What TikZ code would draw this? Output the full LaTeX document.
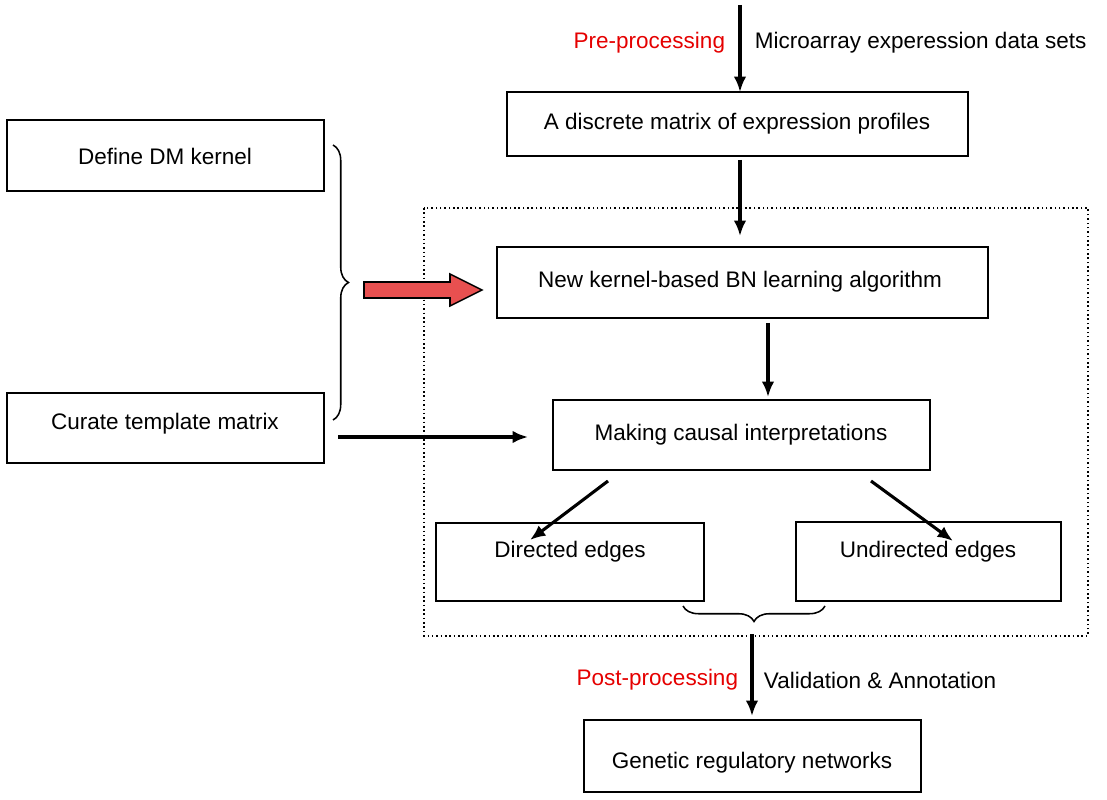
\documentclass[tikz,border=0pt]{standalone}
\usepackage{fontspec}
\setmainfont{Liberation Sans}
\usetikzlibrary{decorations.pathreplacing,arrows.meta}
\begin{document}
\begin{tikzpicture}[x=0.025cm,y=-0.025cm,
  box/.style={draw,line width=1.1pt,inner sep=0},
  txt/.style={font=\fontsize{16}{19}\selectfont},
  arr/.style={-{Latex[length=11pt,width=9pt]},line width=2.2pt},
  br/.style={decorate,decoration={brace,amplitude=11pt},line width=1.1pt}]
\useasboundingbox (0,0) rectangle (1107,800);
\draw[dotted,line width=1.1pt] (424,208) rectangle (1088,636);
\draw[box] (507,92) rectangle (968,156);
\node[txt] (dm) at (737,124) {A discrete matrix of expression profiles};
\draw[box] (497,247) rectangle (988,318);
\node[txt] (bn) at (740,282) {New kernel-based BN learning algorithm};
\draw[box] (553,400) rectangle (930,470);
\node[txt] (mc) at (741,435) {Making causal interpretations};
\draw[box] (436,523) rectangle (704,601);
\node[txt] (de) at (570,552) {Directed edges};
\draw[box] (796,522) rectangle (1061,601);
\node[txt] (ue) at (928,552) {Undirected edges};
\draw[box] (584,720) rectangle (921,792);
\node[txt] (gr) at (752,763) {Genetic regulatory networks};
\draw[box] (7,120) rectangle (324,191);
\node[txt] (dk) at (165,156) {Define DM kernel};
\draw[box] (7,393) rectangle (324,463);
\node[txt] (ct) at (165,424) {Curate template matrix};
\coordinate (t0) at (740,5); \coordinate (t1) at (740,92);
\draw[arr] (t0) -- (t1);
\node[txt,red!90!black,anchor=east] (pre) at (730,43) {Pre-processing};
\node[txt,anchor=west] (mic) at (750,43) {Microarray experession data sets};
\coordinate (a0) at (740,160); \coordinate (a1) at (740,236);
\draw[arr] (a0) -- (a1);
\coordinate (b0) at (768,323); \coordinate (b1) at (768,397);
\draw[arr] (b0) -- (b1);
\coordinate (c0) at (608,481); \coordinate (c1) at (530,540);
\draw[arr] (c0) -- (c1);
\coordinate (d0) at (871,481); \coordinate (d1) at (953,541);
\draw[arr] (d0) -- (d1);
\draw[br] (825,606) -- (683,606);
\coordinate (e0) at (752,634); \coordinate (e1) at (752,716);
\draw[arr] (e0) -- (e1);
\node[txt,red!90!black,anchor=east] (post) at (743,680) {Post-processing};
\node[txt,anchor=west] (val) at (759,680) {Validation \& Annotation};
\draw[br] (333,145) -- (333,420);
\draw[line width=1.1pt,fill={rgb,255:red,232;green,80;blue,80}] (364,282) -- (450,282) -- (450,274) -- (482,290) -- (450,306) -- (450,298) -- (364,298) -- cycle;
\coordinate (f0) at (338,437); \coordinate (f1) at (528,437);
\draw[arr] (f0) -- (f1);
\end{tikzpicture}
\end{document}
